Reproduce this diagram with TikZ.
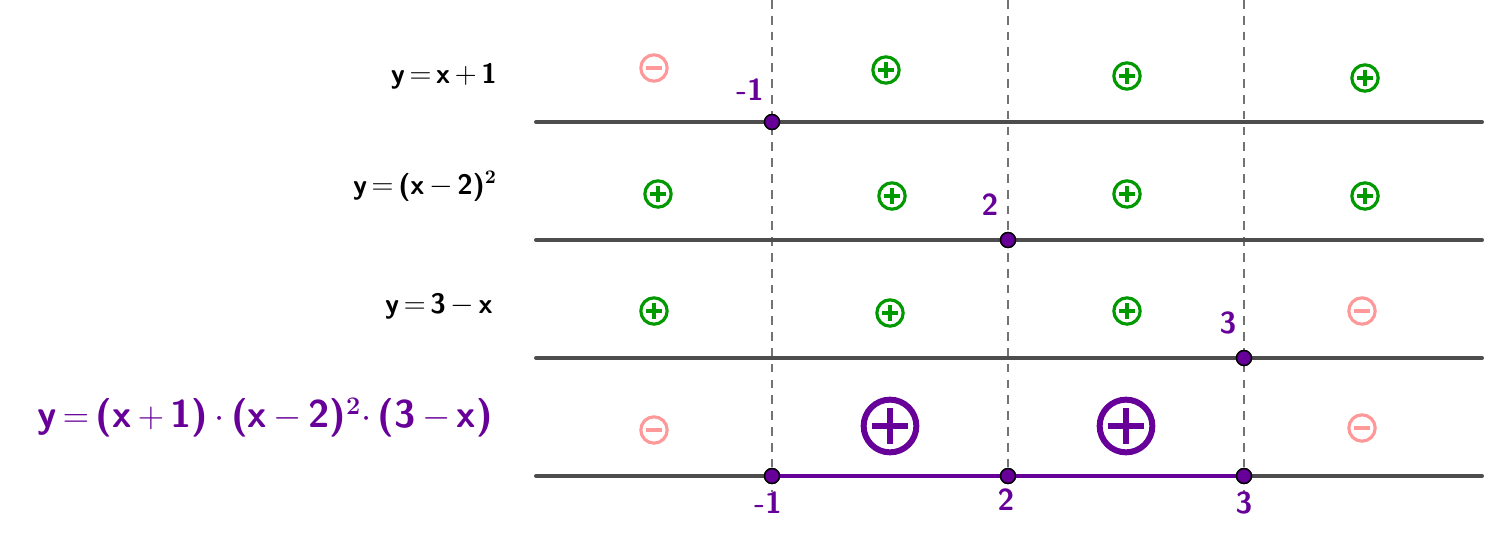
\documentclass[tikz,border=0pt]{standalone}
\usepackage{amsmath}
\definecolor{signpurple}{HTML}{660099}
\definecolor{signgreen}{HTML}{009900}
\definecolor{signpink}{HTML}{FF9999}
\definecolor{axisgray}{HTML}{4D4D4D}
\newcommand{\eqs}{\,$=$\,}
\newcommand{\pls}{\,$+$\,}
\newcommand{\mns}{\,$-$\,}
\begin{document}
\begin{tikzpicture}
[x=0.02cm,y=-0.02cm,
  axisdecorate/.style={axisgray,line width=2.3pt,line cap=round},%
  dashdecorate/.style={black!55,dash pattern=on 5pt off 4pt,line width=1.4pt},%
  nodedecorate/.style={shape=circle,inner sep=0pt,minimum size=8.5pt,draw=black,fill=signpurple,line width=0.8pt},%
  numdecorate/.style={signpurple,font=\sffamily\bfseries\LARGE},%
  labeldecorate/.style={anchor=east,font=\sffamily\bfseries\fontsize{16}{19}\selectfont},%
  plusdecorate/.style={shape=circle,draw=signgreen,line width=1.8pt,minimum size=15pt,inner sep=0pt,
    path picture={\draw[signgreen,line width=1.9pt] (path picture bounding box.west)++(3pt,0) -- ++(9pt,0)
      (path picture bounding box.north)++(0,-3pt) -- ++(0,-9pt);}},%
  minusdecorate/.style={shape=circle,draw=signpink,line width=1.8pt,minimum size=15pt,inner sep=0pt,
    path picture={\draw[signpink,line width=1.9pt] (path picture bounding box.west)++(3pt,0) -- ++(9pt,0);}},%
  bigplusdecorate/.style={shape=circle,draw=signpurple,line width=3.4pt,minimum size=30pt,inner sep=0pt,
    path picture={\draw[signpurple,line width=3.8pt] (path picture bounding box.west)++(5pt,0) -- ++(20pt,0)
      (path picture bounding box.north)++(0,-5pt) -- ++(0,-20pt);}}]
\useasboundingbox (0,0) rectangle (1512,532);
% dashed verticals
\foreach \x in {772,1008,1244}
  \draw[dashdecorate] (\x,0) -- (\x,492);
% axes
\foreach \y/\n in {122/a,240/b,358/c,476/d} {
  \coordinate (\n l) at (536,\y);
  \coordinate (\n r) at (1482,\y);
  \draw[axisdecorate] (\n l) -- (\n r);
}
% labels
\node[labeldecorate] (la) at (503,76) {y\eqs x\pls 1};
\node[labeldecorate] (lb) at (503,186) {y\eqs (x\mns 2)$^{\mathbf 2}$};
\node[labeldecorate] (lc) at (499,306) {y\eqs 3\mns x};
\node[labeldecorate,signpurple,font=\sffamily\bfseries\fontsize{22}{26}\selectfont] (ld) at (499,418) {y\eqs (x\pls 1)\,$\cdot$\,(x\mns 2)$^{\mathbf 2}$$\cdot$\,(3\mns x)};
% zeros
\node (za) at (772,122) [nodedecorate] {};
\node[numdecorate] at (750,90) {-1};
\node (zb) at (1008,240) [nodedecorate] {};
\node[numdecorate] at (990,205) {2};
\node (zc) at (1244,358) [nodedecorate] {};
\node[numdecorate] at (1228,323) {3};
\node (d1) at (772,476) [nodedecorate] {};
\node (d2) at (1008,476) [nodedecorate] {};
\node (d3) at (1244,476) [nodedecorate] {};
\draw[signpurple,line width=2.6pt] (d1) -- (d2) -- (d3);
\node[numdecorate] at (768,503) {-1};
\node[numdecorate] at (1006,500) {2};
\node[numdecorate] at (1244,503) {3};
% signs
\node[minusdecorate] (s11) at (654,68) {};
\node[plusdecorate] (s12) at (886,70) {};
\node[plusdecorate] (s13) at (1127,76) {};
\node[plusdecorate] (s14) at (1365,78) {};
\node[plusdecorate] (s21) at (658,194) {};
\node[plusdecorate] (s22) at (892,196) {};
\node[plusdecorate] (s23) at (1127,194) {};
\node[plusdecorate] (s24) at (1365,196) {};
\node[plusdecorate] (s31) at (654,311) {};
\node[plusdecorate] (s32) at (890,313) {};
\node[plusdecorate] (s33) at (1127,311) {};
\node[minusdecorate] (s34) at (1362,311) {};
\node[minusdecorate] (s41) at (654,430) {};
\node[bigplusdecorate] (s42) at (890,426) {};
\node[bigplusdecorate] (s43) at (1126,426) {};
\node[minusdecorate] (s44) at (1362,428) {};
% redraw zero points above dashes
\foreach \n in {za,zb,zc,d1,d2,d3}
  \node at (\n) [nodedecorate] {};
\end{tikzpicture}
\end{document}
